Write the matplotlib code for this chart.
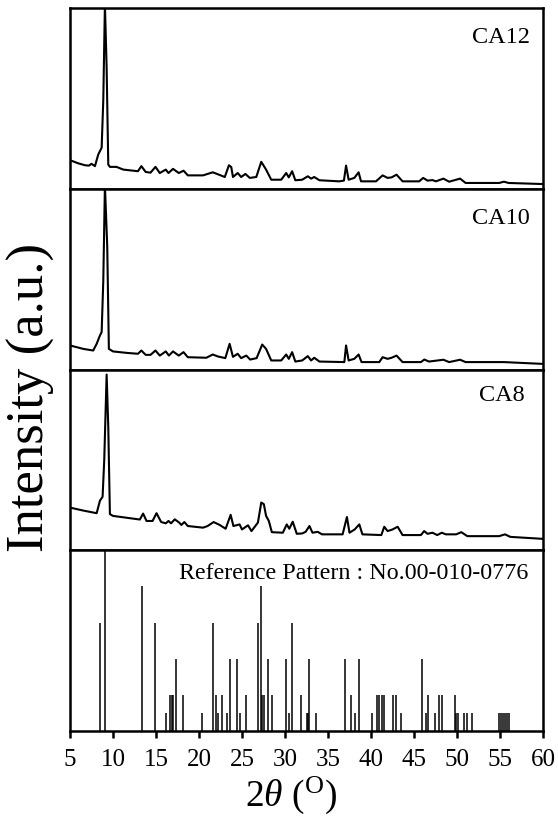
import matplotlib
matplotlib.use("Agg")
import matplotlib.pyplot as plt

plt.rcParams['font.family'] = ['Liberation Serif', 'DejaVu Serif']
plt.rcParams['mathtext.fontset'] = 'custom'
plt.rcParams['mathtext.rm'] = 'Liberation Serif'
plt.rcParams['mathtext.it'] = 'Liberation Serif:italic'

# ---------------- data ----------------
ca12_x = [5.0, 6.0, 6.74, 7.2, 7.5, 7.9, 8.29, 8.68, 8.87, 9.06, 9.26, 9.45, 9.64, 10.4, 11.2, 12.9,
          13.3, 13.8, 14.36, 14.94, 15.44, 16.14, 16.45, 16.98, 17.65, 18.2, 18.7, 20.47, 21.6, 22.2,
          23.0, 23.48, 23.75, 23.95, 24.5, 24.9, 25.4, 25.9, 26.66, 27.24, 27.8, 28.4, 29.56, 30.14,
          30.44, 30.83, 31.2, 32.0, 32.65, 33.04, 33.4, 34.0, 36.3, 36.85, 37.1, 37.4, 38.06, 38.56,
          38.84, 40.58, 41.35, 41.93, 42.4, 42.97, 43.67, 45.6, 46.07, 46.57, 47.15, 47.54, 48.42,
          49.08, 50.36, 51.0, 54.9, 55.46, 56.0, 60.0]
ca12_y = [0.158, 0.140, 0.130, 0.128, 0.138, 0.125, 0.19, 0.227, 0.49, 1.02, 0.67, 0.134, 0.121, 0.121,
          0.106, 0.097, 0.125, 0.093, 0.089, 0.121, 0.087, 0.106, 0.087, 0.11, 0.087, 0.10, 0.074,
          0.074, 0.091, 0.080, 0.065, 0.13, 0.12, 0.065, 0.087, 0.065, 0.082, 0.06, 0.065, 0.149,
          0.106, 0.05, 0.05, 0.087, 0.063, 0.097, 0.047, 0.05, 0.069, 0.056, 0.065, 0.047, 0.041,
          0.045, 0.128, 0.05, 0.06, 0.091, 0.041, 0.041, 0.074, 0.06, 0.063, 0.078, 0.041, 0.041,
          0.06, 0.045, 0.048, 0.041, 0.056, 0.039, 0.056, 0.032, 0.032, 0.039, 0.032, 0.026]

ca10_x = [5.0, 6.55, 7.7, 8.1, 8.48, 8.68, 8.87, 9.06, 9.33, 9.52, 10.0, 11.58, 12.9, 13.3, 13.8,
          14.36, 14.94, 15.44, 16.14, 16.5, 16.98, 17.65, 18.2, 18.7, 20.86, 21.6, 22.2, 23.06,
          23.56, 23.95, 24.5, 24.9, 25.5, 25.95, 26.7, 27.35, 27.8, 28.4, 29.56, 30.14, 30.44,
          30.83, 31.2, 32.0, 32.65, 33.04, 33.4, 34.0, 36.9, 37.1, 37.4, 38.06, 38.56, 38.9,
          40.96, 41.35, 41.93, 42.4, 42.97, 43.67, 45.8, 46.2, 46.75, 48.42, 49.08, 50.36, 51.0,
          55.46, 60.0]
ca10_y = [0.133, 0.114, 0.105, 0.142, 0.188, 0.207, 0.49, 1.02, 0.68, 0.114, 0.10, 0.092, 0.087,
          0.105, 0.081, 0.081, 0.105, 0.077, 0.10, 0.077, 0.10, 0.077, 0.096, 0.068, 0.065, 0.083,
          0.072, 0.063, 0.142, 0.07, 0.087, 0.063, 0.077, 0.055, 0.063, 0.138, 0.114, 0.05, 0.05,
          0.083, 0.059, 0.096, 0.044, 0.05, 0.074, 0.05, 0.065, 0.044, 0.041, 0.133, 0.05, 0.059,
          0.083, 0.041, 0.041, 0.068, 0.059, 0.065, 0.077, 0.041, 0.041, 0.055, 0.044, 0.054,
          0.041, 0.054, 0.041, 0.041, 0.031]

ca8_x = [5.0, 6.5, 8.1, 8.48, 8.79, 8.98, 9.26, 9.45, 9.64, 10.0, 13.12, 13.5, 13.9, 14.6, 15.06,
         15.6, 16.14, 16.45, 16.75, 17.18, 17.7, 17.95, 18.3, 18.7, 20.47, 21.0, 21.7, 22.4, 23.1,
         23.68, 24.0, 24.72, 25.0, 25.7, 26.1, 26.85, 27.24, 27.54, 27.8, 28.12, 28.47, 29.75, 30.2,
         30.5, 30.9, 31.37, 32.0, 32.4, 32.84, 33.2, 33.8, 34.3, 36.7, 37.2, 37.5, 38.1, 38.64, 39.0,
         41.2, 41.54, 41.93, 42.5, 43.1, 43.67, 45.8, 46.18, 46.57, 47.15, 47.7, 48.23, 48.7, 49.9,
         50.5, 51.2, 54.9, 55.58, 56.2, 60.0]
ca8_y = [0.236, 0.22, 0.205, 0.274, 0.296, 0.497, 0.972, 0.683, 0.20, 0.19, 0.17, 0.203, 0.162,
         0.162, 0.205, 0.156, 0.149, 0.162, 0.149, 0.171, 0.153, 0.14, 0.156, 0.134, 0.125, 0.134,
         0.156, 0.14, 0.119, 0.196, 0.134, 0.143, 0.115, 0.138, 0.106, 0.153, 0.264, 0.255, 0.19,
         0.162, 0.10, 0.097, 0.143, 0.119, 0.158, 0.091, 0.093, 0.102, 0.134, 0.097, 0.102, 0.088,
         0.088, 0.184, 0.097, 0.115, 0.143, 0.088, 0.084, 0.13, 0.106, 0.115, 0.13, 0.084, 0.084,
         0.106, 0.091, 0.097, 0.084, 0.097, 0.088, 0.088, 0.10, 0.078, 0.078, 0.088, 0.074, 0.063]

ref_pos = [8.48, 9.10, 13.35, 14.86, 16.14, 16.6, 16.83, 16.99, 17.34, 18.15, 20.35, 21.63, 22.01,
           22.2, 22.67, 23.25, 23.56, 24.45, 24.72, 25.42, 26.81, 27.16, 27.3, 27.5, 28.05, 28.47,
           30.1, 30.41, 30.84, 31.85, 32.53, 32.65, 32.84, 33.62, 37.02, 37.68, 38.18, 38.56, 40.11,
           40.69, 40.96, 41.23, 41.54, 42.51, 42.9, 43.48, 45.91, 46.38, 46.65, 47.42, 47.92, 48.31,
           49.71, 49.86, 50.17, 50.83, 51.14, 51.79, 54.85, 55.1, 55.35, 55.6, 55.85, 56.1]
ref_int = [60, 100, 80, 60, 10, 20, 20, 20, 40, 20, 10, 60, 20, 10, 20, 10, 40, 40, 10, 20, 60, 80,
           20, 20, 40, 20, 40, 10, 60, 20, 10, 10, 40, 10, 40, 20, 10, 40, 10, 20, 20, 20, 20, 20,
           20, 10, 40, 10, 20, 10, 20, 20, 20, 10, 10, 10, 10, 10, 10, 10, 10, 10, 10, 10]

sample_names = ["CA12", "CA10", "CA8"]
ref_label = "Reference Pattern : No.00-010-0776"
xticks = [5, 10, 15, 20, 25, 30, 35, 40, 45, 50, 55, 60]

# ---------------- figure ----------------
fig = plt.figure(figsize=(5.58, 8.18), dpi=100)
gs = fig.add_gridspec(4, 1, left=70/558, right=543/558, top=1-8/818, bottom=1-731/818, hspace=0)
axes = [fig.add_subplot(gs[i]) for i in range(4)]

series = [(ca12_x, ca12_y), (ca10_x, ca10_y), (ca8_x, ca8_y)]
label_pos = [(0.972, 0.838), (0.972, 0.836), (0.962, 0.856)]
for ax, (xs, ys), name, (lx, ly) in zip(axes[:3], series, sample_names, label_pos):
    ax.plot(xs, ys, color='black', lw=1.5, solid_joinstyle='round')
    ax.set_ylim(0, 1)
    ax.text(lx, ly, name, transform=ax.transAxes, ha='right', va='center', fontsize=17.5)

axr = axes[3]
axr.vlines(ref_pos, 0, ref_int, color='black', lw=1.1)
axr.set_ylim(0, 100)
axr.text(0.969, 0.874, ref_label, transform=axr.transAxes, ha='right', va='center', fontsize=17.3)

for i, ax in enumerate(axes):
    ax.set_xlim(5, 60)
    for s in ax.spines.values():
        s.set_linewidth(1.8)
    ax.set_yticks([])
    if i < 3:
        ax.set_xticks([])
    else:
        ax.set_xticks(xticks)
        ax.tick_params(axis='x', direction='out', length=5, width=1.8, labelsize=18, pad=8)

fig.text(31/558, 1-397/818, "Intensity (a.u.)", rotation=90, ha='center', va='center', fontsize=38)
fig.text(291/558, 2/818, r"$2\theta$ ($^{\rm O}$)", ha='center', va='bottom', fontsize=27)

fig.savefig("out.png", dpi=100)
